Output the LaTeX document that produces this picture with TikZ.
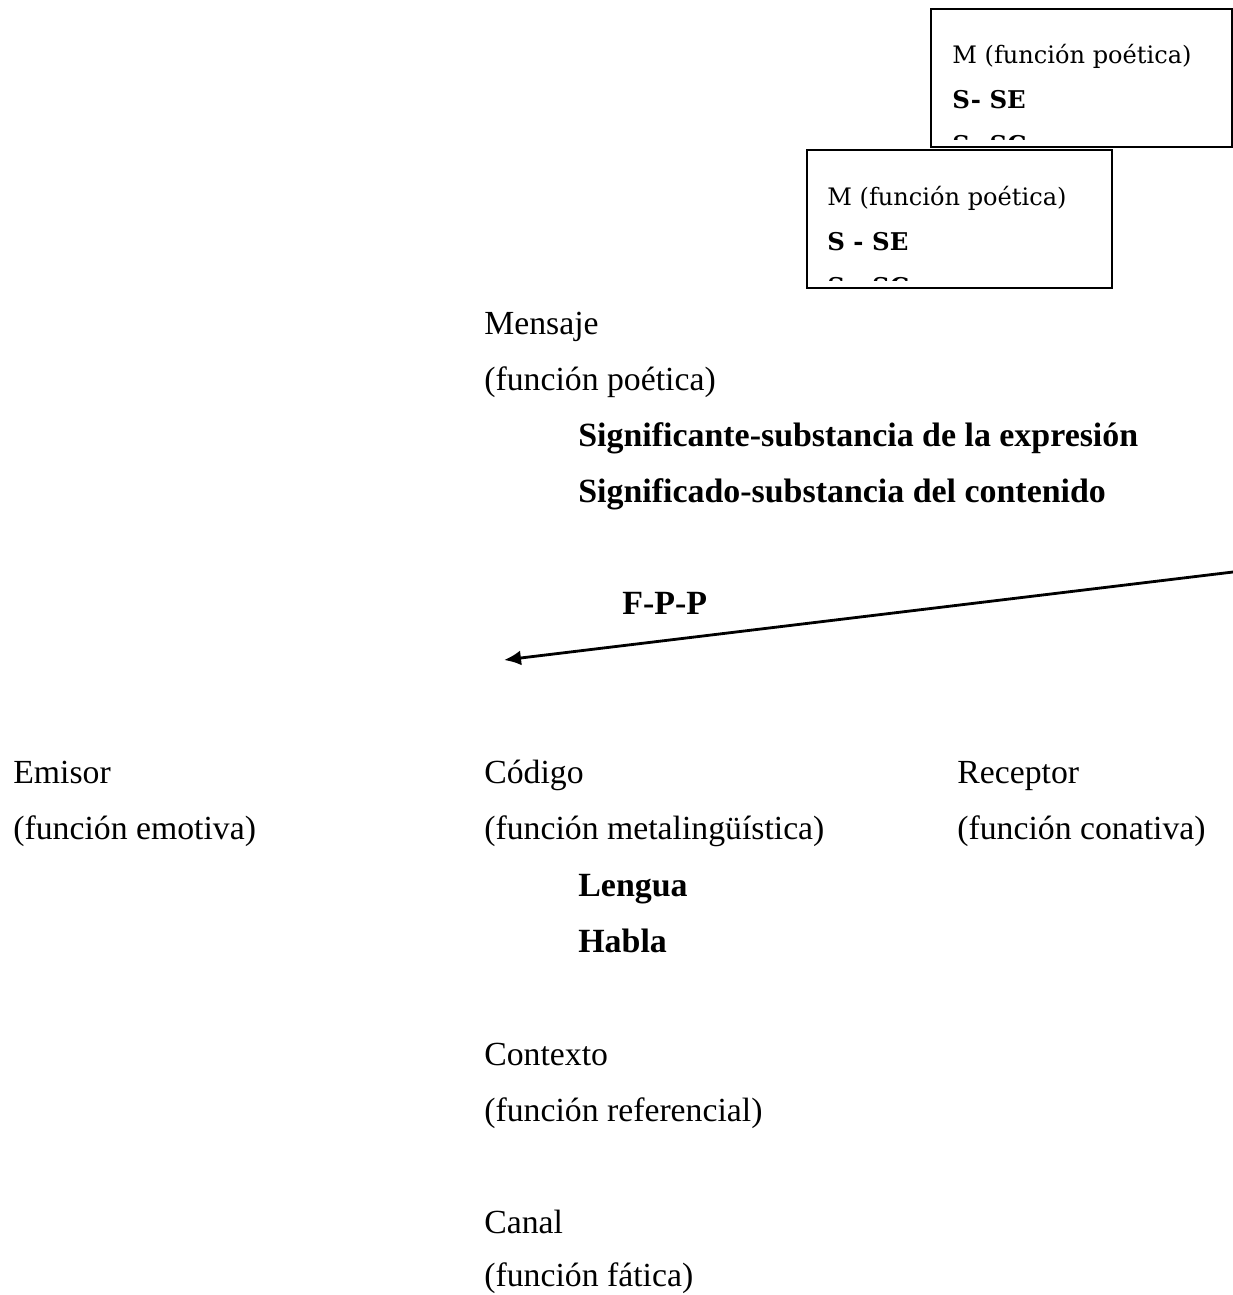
\documentclass[tikz,border=0pt]{standalone}
\usepackage{fontspec}
\setmainfont{Liberation Serif}
\newfontfamily\boxfont{DejaVu Serif}
\usetikzlibrary{arrows.meta}
\tikzset{
  txt/.style={anchor=base west, inner sep=0pt, font=\fontsize{19.2}{23}\selectfont},
  btxt/.style={txt, font=\fontsize{19.3}{23}\selectfont\bfseries},
  mbox/.style={draw, line width=1pt, minimum height=2.76cm, inner sep=0pt},
  mtxt/.style={anchor=base west, inner sep=0pt, font=\boxfont\fontsize{13.7}{16}\selectfont},
  mbold/.style={mtxt, font=\boxfont\bfseries\fontsize{13.9}{16}\selectfont},
}
\begin{document}
\begin{tikzpicture}[x=0.02cm, y=-0.02cm]
\useasboundingbox (0,0) rectangle (1233,1295);

% the two M boxes
\node[mbox, minimum width=6.01cm] (boxa) at (1081.5,78) {};
\node[mtxt] (ma) at (952,63) {M (función poética)};
\node[mbold] (sa) at (952,108) {S- SE};
\begin{scope}
  \clip (931,9) rectangle (1232,139.5);
  \node[mbold] (ca) at (952,153) {S- SC};
\end{scope}

\node[mbox, minimum width=6.10cm] (boxb) at (959.5,219) {};
\node[mtxt] (mb) at (827,205) {M (función poética)};
\node[mbold] (sb) at (827,250) {S - SE};
\begin{scope}
  \clip (807,150) rectangle (1112,280.5);
  \node[mbold] (cb) at (827,295) {S - SC};
\end{scope}

% mensaje
\node[txt] (mensaje) at (484,334) {Mensaje};
\node[txt] (fpoetica) at (484,390) {(función poética)};
\node[btxt] (ste) at (578,446) {Significante-substancia de la expresión};
\node[btxt] (sdo) at (578,502) {Significado-substancia del contenido};

% F-P-P arrow
\node[btxt] (fpp) at (622,614) {F-P-P};
\coordinate (fppstart) at (1233,572);
\coordinate (fppend) at (504,660);
\draw[line width=1.6pt, -{Latex[length=3.4mm,width=3mm]}] (fppstart) -- (fppend);

% emisor, codigo, receptor
\node[txt] (emisor) at (13,783) {Emisor};
\node[txt] (femotiva) at (13,839) {(función emotiva)};
\node[txt] (codigo) at (484,783) {Código};
\node[txt] (fmeta) at (484,839) {(función metalingüística)};
\node[btxt] (lengua) at (578,896) {Lengua};
\node[btxt] (habla) at (578,952) {Habla};
\node[txt] (receptor) at (957,783) {Receptor};
\node[txt] (fconativa) at (957,839) {(función conativa)};

% contexto, canal
\node[txt] (contexto) at (484,1065) {Contexto};
\node[txt] (freferencial) at (484,1121) {(función referencial)};
\node[txt] (canal) at (484,1233) {Canal};
\node[txt] (ffatica) at (484,1286) {(función fática)};
\end{tikzpicture}
\end{document}
